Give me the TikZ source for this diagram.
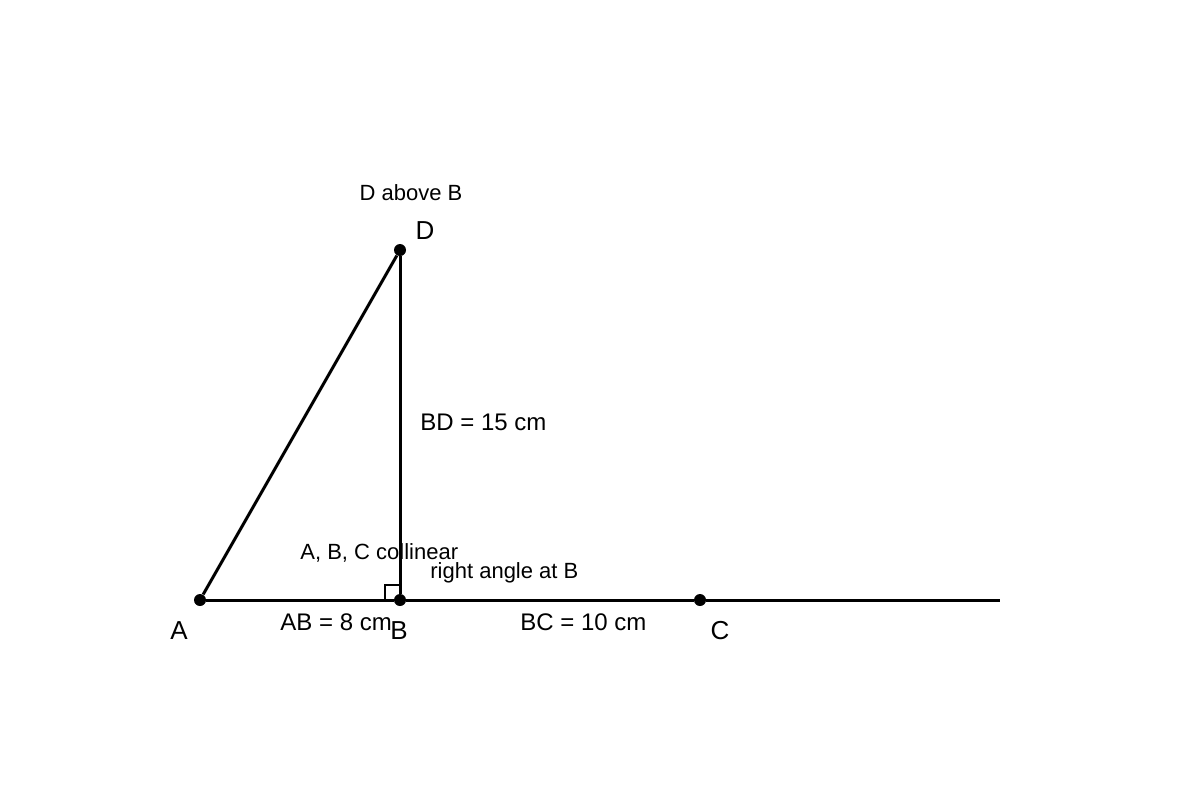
\documentclass[tikz,border=0pt]{standalone}
\usepackage{fontspec}
\setmainfont{Liberation Sans}
\usetikzlibrary{positioning}

\begin{document}
\begin{tikzpicture}[x=0.5pt, y=-0.5pt,
    pt/.style={circle, fill=black, inner sep=0pt, minimum size=6pt},
    seg/.style={line width=1.5pt},
    lbl/.style={font=\fontsize{13}{15}\selectfont, inner sep=0pt},
    note/.style={font=\fontsize{11}{13}\selectfont, inner sep=0pt, anchor=west},
    len/.style={font=\fontsize{12}{14}\selectfont, inner sep=0pt, anchor=west}]
    \useasboundingbox (0,0) rectangle (1200,800);
    \node [pt] (A) at (200,600) {};
    \node [pt] (B) at (400,600) {};
    \node [pt] (C) at (700,600) {};
    \node [pt] (D) at (400,250) {};
    \coordinate (end) at (1000,600);
    \draw [seg] (A) -- (B);
    \draw [seg] (B) -- (C);
    \draw [seg] (C) -- (end);
    \draw [seg] (B) -- (D);
    \draw [seg] (A) -- (D);
    \draw [line width=0.75pt] (385,600) -- (385,585) -- (400,585);
    \node [lbl] (labA) at (179,631) {A};
    \node [lbl] (labB) at (399,631) {B};
    \node [lbl] (labC) at (720,631) {C};
    \node [lbl] (labD) at (425,231) {D};
    \node [note, anchor=center] (above) at (411,193) {D above B};
    \node [len] (bd) at (420,422) {BD = 15 cm};
    \node [note] (coll) at (300,553) {A, B, C collinear};
    \node [note] (right) at (430,573) {right angle at B};
    \node [len] (ab) at (280,622) {AB = 8 cm};
    \node [len] (bc) at (520,622) {BC = 10 cm};
\end{tikzpicture}
\end{document}
